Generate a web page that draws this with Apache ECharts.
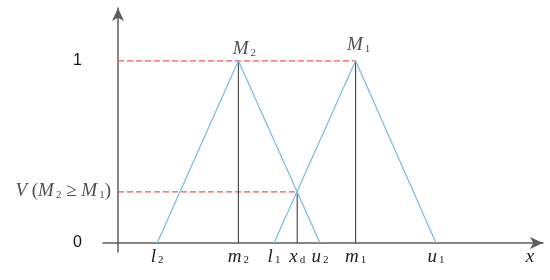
<!DOCTYPE html>
<html>
<head>
<meta charset="utf-8">
<script src="https://cdn.jsdelivr.net/npm/echarts@6/dist/echarts.min.js"></script>
<style>
  html, body { margin: 0; padding: 0; background: #fff; }
  #chart { width: 550px; height: 280px; }
</style>
</head>
<body>
<div id="chart"></div>
<script>
// fuzzy numbers (l, m, u)
const fuzzyM2 = [0.98, 3.01, 5.05];
const fuzzyM1 = [3.9, 5.94, 7.95];
// intersection point
const xd = 4.48;
const degree = 0.28;

// x axis labels
const tickValues = [0.98, 3.01, 3.9, 4.48, 5.05, 5.94, 7.95, 10.3];
const tickLetters = ["l", "m", "l", "x", "u", "m", "u", "x"];
const tickSubs = ["2", "2", "1", "d", "2", "1", "1", ""];

const yTickValues = [0, 1];
const yTickLabels = ["0", "1"];

const serif = "'Liberation Serif', 'DejaVu Serif', serif";
const blue = "#82bde3";
const red = "#ee5a5a";
const dark = "#444";

const rich = {
  i: { fontFamily: serif, fontStyle: "italic", fontSize: 19, color: "#222" },
  s: { fontFamily: serif, fontStyle: "normal", fontSize: 11, color: "#222", padding: [8, 0, 0, 2] },
  r: { fontFamily: serif, fontSize: 19, color: "#222" },
};

function sub(letter, s) {
  return "{i|" + letter + "}" + (s ? "{s|" + s + "}" : "");
}

function triangle(f) {
  return [[f[0], 0], [f[1], 1], [f[2], 0]];
}

const chart = echarts.init(document.getElementById("chart"));

chart.setOption({
  animation: false,
  grid: { left: 103, right: 7, top: 8, bottom: 28 },
  xAxis: {
    type: "value",
    min: -0.375,
    max: 10.625,
    splitLine: { show: false },
    axisTick: { show: false },
    axisLine: {
      onZero: true,
      symbol: ["none", "arrow"],
      symbolSize: [9, 13],
      lineStyle: { color: "#5e5e5e", width: 1.5 },
    },
    axisLabel: {
      customValues: tickValues,
      margin: -5,
      rich: rich,
      formatter: (v) => {
        const k = tickValues.findIndex((t) => Math.abs(t - v) < 1e-6);
        return k < 0 ? "" : sub(tickLetters[k], tickSubs[k]);
      },
    },
  },
  yAxis: {
    type: "value",
    min: -0.05,
    max: 1.29,
    splitLine: { show: false },
    axisTick: { show: false },
    axisLine: {
      onZero: true,
      symbol: ["none", "arrow"],
      symbolSize: [9, 13],
      lineStyle: { color: "#5e5e5e", width: 1.5 },
    },
    axisLabel: {
      customValues: yTickValues,
      margin: 21,
      fontFamily: "'Liberation Sans', Arial, sans-serif",
      fontSize: 16,
      color: "#111",
      formatter: (v) => yTickLabels[yTickValues.indexOf(v)] || "",
    },
  },
  series: [
    {
      type: "line",
      data: triangle(fuzzyM2),
      symbol: "none",
      lineStyle: { color: blue, width: 1.3 },
      z: 3,
    },
    {
      type: "line",
      data: triangle(fuzzyM1),
      symbol: "none",
      lineStyle: { color: blue, width: 1.3 },
      z: 3,
    },
    // red dashed guides
    {
      type: "line",
      data: [[0, 1], [fuzzyM1[1], 1]],
      symbol: "none",
      lineStyle: { color: red, width: 1.3, type: [6, 3] },
      z: 2,
    },
    {
      type: "line",
      data: [[0, degree], [xd, degree]],
      symbol: "none",
      lineStyle: { color: red, width: 1.3, type: [6, 3] },
      z: 2,
    },
    // vertical drops
    {
      type: "line",
      data: [[fuzzyM2[1], 0], [fuzzyM2[1], 1]],
      symbol: "none",
      lineStyle: { color: dark, width: 1.1 },
      z: 2,
    },
    {
      type: "line",
      data: [[fuzzyM1[1], 0], [fuzzyM1[1], 1]],
      symbol: "none",
      lineStyle: { color: dark, width: 1.1 },
      z: 2,
    },
    {
      type: "line",
      data: [[xd, 0], [xd, degree]],
      symbol: "none",
      lineStyle: { color: dark, width: 1.1 },
      z: 2,
    },
    // text annotations
    {
      type: "scatter",
      symbolSize: 0,
      silent: true,
      data: [
        { value: [fuzzyM2[1], 1], label: { formatter: sub("M", "2"), offset: [6, 0] } },
        { value: [fuzzyM1[1], 1], label: { formatter: sub("M", "1"), offset: [3, -4] } },
      ],
      label: { show: true, position: "top", distance: 2, rich: rich },
    },
    {
      type: "scatter",
      symbolSize: 0,
      silent: true,
      data: [[0, degree]],
      label: {
        show: true,
        position: "left",
        distance: 7,
        offset: [0, -1],
        rich: rich,
        formatter: "{i|V}{r| (}" + sub("M", "2") + "{r| ≥ }" + sub("M", "1") + "{r|)}",
      },
    },
  ],
});
</script>
</body>
</html>
